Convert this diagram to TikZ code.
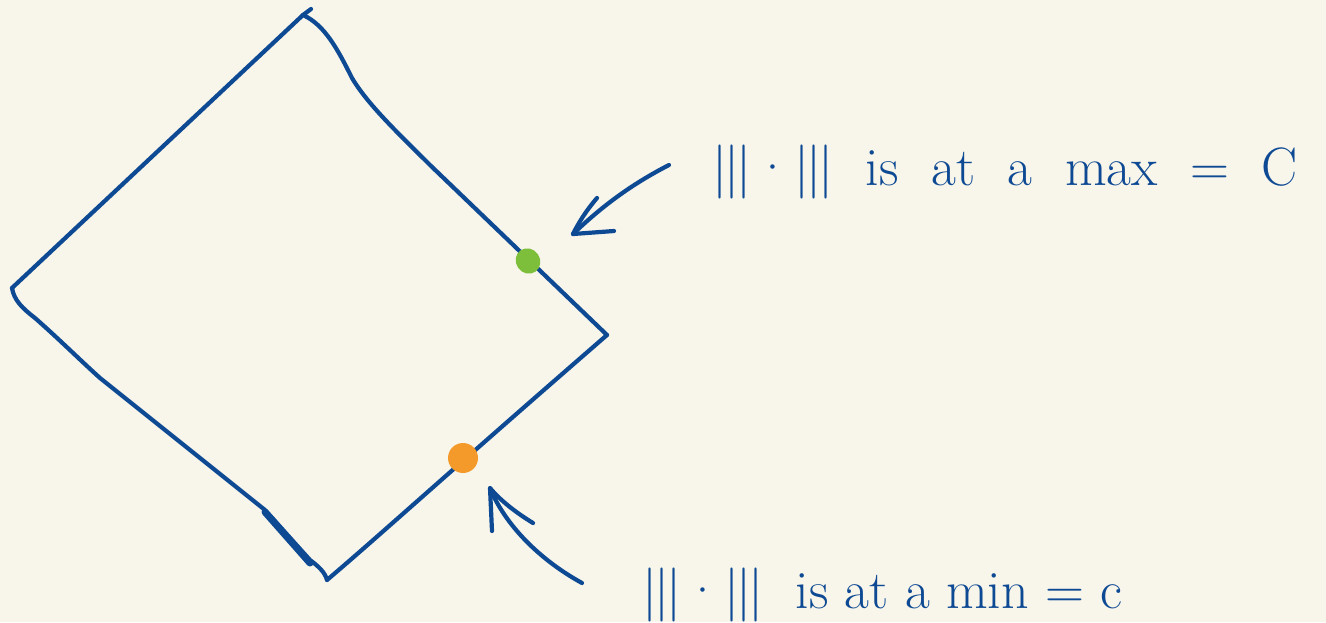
\documentclass[tikz,border=0pt]{standalone}
\usetikzlibrary{shapes.geometric}
\definecolor{ink}{HTML}{0E4A94}
\definecolor{paper}{HTML}{F8F5EA}
\definecolor{dotgreen}{HTML}{7DBF3A}
\definecolor{dotorange}{HTML}{F39A2B}
\tikzset{
  pen/.style={draw=ink, line width=4.2pt, line cap=round, line join=round},
  dotmark/.style={ellipse, inner sep=0pt, minimum width=24pt, minimum height=26pt},
  lab/.style={text=ink, anchor=base west, inner sep=0pt, font=\fontsize{54}{60}\selectfont},
}
\newcommand{\tnorm}{|\kern-3pt|\kern-3pt|\kern2pt·\kern2pt|\kern-3pt|\kern-3pt|}
\begin{document}
\begin{tikzpicture}[x=1pt,y=-1pt]
\fill[paper] (0,0) rectangle (1326,622);
\useasboundingbox (0,0) rectangle (1326,622);
% corners
\coordinate (T) at (303,15);
\coordinate (R) at (607,335);
\coordinate (B) at (327,580);
\coordinate (L) at (12,288);
% diamond edges
\draw[pen] (T) -- (L);
\draw[pen] (L) .. controls (14,300) and (22,308) .. (35,318) .. controls (60,340) and (80,360) .. (100,378) -- (265,510) -- (310,560) .. controls (318,566) and (325,572) .. (B);
\draw[pen] (B) .. controls (380,535) and (440,480) .. (R);
\draw[pen] (T) .. controls (325,25) and (338,50) .. (352,78) .. controls (368,105) and (400,135) .. (430,165) -- (R);
\draw[pen] (T) -- (311,9);
\draw[draw=ink, line width=7pt, line cap=round] (265,512) -- (310,563);
% dots
\node[dotmark, fill=dotgreen, rotate=35] (max) at (528,261) {};
\node[dotmark, fill=dotorange, minimum width=30pt, minimum height=30pt] (min) at (463,458) {};
% labels
\node[lab] (labmax) at (712,185) {\tnorm\ \ is\ \ at\ \ a\ \ max\ \ =\ \ C};
\node[lab] (labmin) at (642,608) {\tnorm\ \ is\ at\ a\ min\ =\ c};
% pointers
\coordinate (a1s) at (669,165);
\coordinate (a1e) at (573,234);
\coordinate (a1b) at (597,198);
\coordinate (a1c) at (614,231);
\coordinate (a2s) at (582,583);
\coordinate (a2e) at (490,488);
\coordinate (a2b) at (492,531);
\coordinate (a2c) at (533,523);
\draw[pen] (a1s) .. controls (630,185) and (600,208) .. (a1e);
\draw[pen] (a1b) .. controls (585,212) and (578,224) .. (a1e) -- (a1c);
\draw[pen] (a2s) .. controls (540,560) and (505,525) .. (a2e);
\draw[pen] (a2b) -- (a2e) .. controls (500,500) and (515,512) .. (a2c);
\end{tikzpicture}
\end{document}
